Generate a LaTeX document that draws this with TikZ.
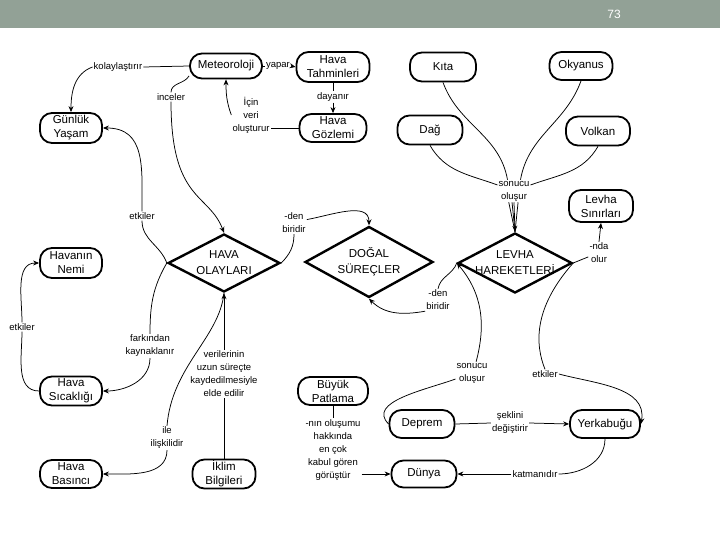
\documentclass[tikz,border=0pt]{standalone}
\usepackage{fontspec}
\setmainfont{Liberation Sans}
\usetikzlibrary{shapes.geometric,arrows.meta}
\definecolor{barcol}{RGB}{146,161,150}
\begin{document}
\begin{tikzpicture}[x=1pt,y=1pt,
 box/.style={draw, line width=1.8pt, rounded corners=12pt, minimum width=64pt, minimum height=28pt, inner sep=0.5pt, align=center, font=\fontsize{11.5}{14}\selectfont},
 dia/.style={draw, diamond, line width=2.4pt, inner sep=0pt},
 dtext/.style={align=center, font=\fontsize{11.5}{16}\selectfont},
 lbl/.style={align=center, inner sep=1pt, font=\fontsize{9.5}{13}\selectfont},
 con/.style={line width=0.75pt},
 arr/.style={con, -{Stealth[length=6pt,width=5pt]}}
]
\useasboundingbox (0,0) rectangle (720,-540);
\fill[barcol] (0,0) rectangle (720,-28);
\node[text=white, font=\fontsize{12}{14}\selectfont] (pg) at (614,-14) {73};

% boxes
\node[box, minimum width=72pt, minimum height=25pt] (met) at (226,-66) {Meteoroloji};
\node[box, minimum width=73pt, minimum height=30pt] (tah) at (333,-67) {Hava\\Tahminleri};
\node[box, minimum width=67pt] (goz) at (333,-128) {Hava\\Gözlemi};
\node[box, minimum width=62pt, minimum height=30pt] (gun) at (71,-128) {Günlük\\Yaşam};
\node[box, minimum width=66pt, minimum height=29pt] (kita) at (443,-67) {Kıta};
\node[box, minimum width=63pt] (oky) at (581,-66) {Okyanus};
\node[box, minimum width=65pt, minimum height=29pt] (dag) at (430,-130) {Dağ};
\node[box, minimum height=29pt] (vol) at (598,-131) {Volkan};
\node[box, minimum height=32pt] (lsi) at (601,-206) {Levha\\Sınırları};
\node[box, minimum width=62pt, minimum height=30pt] (nem) at (71,-263) {Havanın\\Nemi};
\node[box, minimum width=62pt, minimum height=29pt] (sic) at (71,-391) {Hava\\Sıcaklığı};
\node[box, minimum width=62pt] (bas) at (71,-474) {Hava\\Basıncı};
\node[box, minimum width=63pt, minimum height=29pt] (ikl) at (224,-474) {İklim\\Bilgileri};
\node[box, minimum width=70pt] (bp) at (333,-391) {Büyük\\Patlama};
\node[box, minimum width=65pt] (dep) at (422,-424) {Deprem};
\node[box, minimum width=70pt] (yer) at (605,-424) {Yerkabuğu};
\node[box, minimum width=65pt, minimum height=27pt] (dun) at (424,-474) {Dünya};

% diamonds
\node[dia, minimum width=112pt, minimum height=58pt] (ho) at (224,-263) {};
\node[dtext] (hot) at (ho) {HAVA\\OLAYLARI};
\node[dia, minimum width=128pt, minimum height=71pt] (ds) at (369,-262) {};
\node[dtext] (dst) at (ds) {DOĞAL\\SÜREÇLER};
\node[dia, minimum width=114pt, minimum height=60pt] (lh) at (515,-263) {};
\node[dtext] (lht) at (lh) {LEVHA\\HAREKETLERİ};

% labels
\node[lbl] (l_kol) at (118,-67) {kolaylaştırır};
\node[lbl] (l_inc) at (171,-97) {inceler};
\node[lbl] (l_yap) at (278,-66) {yapar};
\node[lbl] (l_day) at (333,-97) {dayanır};
\node[lbl] (l_icin) at (251,-115) {İçin\\veri\\oluşturur};
\node[lbl] (l_etk1) at (142,-216) {etkiler};
\node[lbl] (l_den1) at (294,-223) {-den\\biridir};
\node[lbl] (l_den2) at (438,-300) {-den\\biridir};
\node[lbl] (l_ver) at (224,-374) {verilerinin\\uzun süreçte\\kaydedilmesiyle\\elde edilir};
\node[lbl] (l_fark) at (150,-346) {farkından\\kaynaklanır};
\node[lbl] (l_ile) at (167,-438) {ile\\ilişkilidir};
\node[lbl] (l_etk2) at (22,-327) {etkiler};
\node[lbl] (l_son1) at (514,-191) {sonucu\\oluşur};
\node[lbl] (l_nda) at (599,-253) {-nda\\olur};
\node[lbl] (l_son2) at (472,-373) {sonucu\\oluşur};
\node[lbl] (l_etk3) at (545,-374) {etkiler};
\node[lbl] (l_sek) at (510,-423) {şeklini\\değiştirir};
\node[lbl] (l_kat) at (535,-474) {katmanıdır};
\node[lbl] (l_bp) at (333,-450) {-nın oluşumu\\hakkında\\en çok\\kabul gören\\görüştür};

% connectors
\draw[con] (met.west) -- (l_kol.east);
\draw[arr] (l_kol.west) to[out=200, in=90] (gun.north);
\draw[con] (met.195) to[out=240, in=90] (l_inc.north);
\draw[arr] (l_inc.south) .. controls +(0,-100) and +(-15,40) .. (ho.north);
\draw[con] (met.east) -- (l_yap.west);
\draw[arr] (l_yap.east) -- (tah.west);
\draw[con] (tah.south) -- (l_day.north);
\draw[arr] (l_day.south) -- (goz.north);
\draw[con] (goz.west) -- (goz.west -| l_icin.east);
\draw[arr] (l_icin.west) to[out=110, in=-90] (met.south);

\draw[con] (ho.west) to[out=110, in=-90] (l_etk1.south);
\draw[arr] (l_etk1.north) to[out=90, in=0, looseness=1.2] (gun.east);
\draw[con] (ho.west) to[out=-120, in=90] (l_fark.north);
\draw[arr] (l_fark.south) to[out=-90, in=0] (sic.east);
\draw[con] (ho.south) .. controls +(-5,-45) and +(5,60) .. (l_ile.north);
\draw[arr] (l_ile.south) to[out=-90, in=0] (bas.east);
\draw[con] (ikl.north) -- (l_ver.south);
\draw[arr] (l_ver.north) -- (ho.south);
\draw[con] (sic.west) to[out=180, in=-90] (l_etk2.south);
\draw[arr] (l_etk2.north) to[out=90, in=180] (nem.west);

\draw[con] (ho.east) to[out=45, in=-90] (l_den1.south);
\draw[arr] (l_den1.15) to[out=10, in=90] (ds.north);
\draw[con] (lh.west) to[out=-110, in=80] (l_den2.north);
\draw[arr] (l_den2.south west) to[out=190, in=-45] (ds.south);

\draw[con] (kita.south) to[out=-70, in=100] (l_son1.120);
\draw[con] (oky.south) to[out=-110, in=80] (l_son1.60);
\draw[con] (dag.south) to[out=-60, in=160] (l_son1.160);
\draw[con] (vol.south) to[out=-120, in=20] (l_son1.20);
\draw[con] (l_son1.-115) -- (lh.north);
\draw[con] (l_son1.-100) -- (lh.north);
\draw[con] (l_son1.-70) -- (lh.north);
\draw[arr] (l_son1.south) -- (lh.north);

\draw[con] (lh.east) -- (l_nda.200);
\draw[arr] (l_nda.north) -- (lsi.south);

\draw[con] (dep.west) to[out=135, in=200] (l_son2.200);
\draw[arr] (l_son2.70) to[out=75, in=-50] (lh.west);
\draw[con] (lh.east) .. controls +(-40,-45) and +(-10,25) .. (l_etk3.north);
\draw[arr] (l_etk3.east) to[out=-15, in=80] (yer.east);

\draw[con] (dep.east) -- (l_sek.west);
\draw[arr] (l_sek.east) -- (yer.west);
\draw[con] (yer.south) to[out=-90, in=0] (l_kat.east);
\draw[arr] (l_kat.west) -- (dun.east);
\draw[con] (bp.south) -- (l_bp.north);
\draw[arr] (l_bp.east |- dun.west) -- (dun.west);
\end{tikzpicture}
\end{document}
